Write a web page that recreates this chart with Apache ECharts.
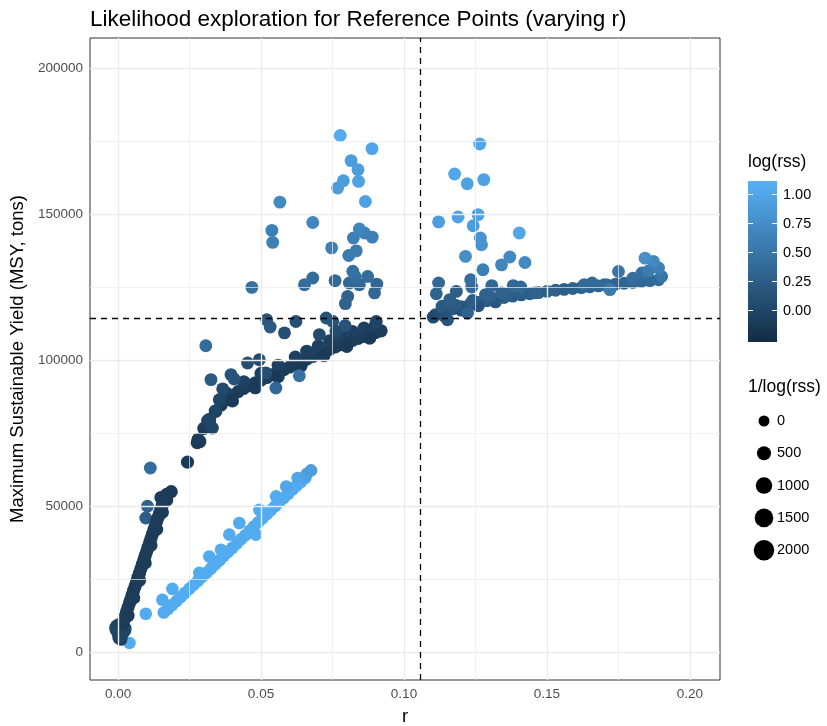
<!DOCTYPE html>
<html>
<head>
<meta charset="utf-8">
<script src="https://cdn.jsdelivr.net/npm/echarts@6/dist/echarts.min.js"></script>
<style>
  html, body { margin: 0; padding: 0; background: #fff; }
  #chart { width: 827px; height: 726px; }
</style>
</head>
<body>
<div id="chart"></div>
<script>
// every row: [r, MSY (tons), log(rss), 1/log(rss)]
let lightLine = [
  [0.0040, 3100, 1.05, 250], [0.0097, 13100, 1.05, 250], [0.0155, 17900, 1.05, 250], [0.0190, 21600, 1.05, 250],
  [0.0160, 13500, 1.05, 250], [0.0175, 14800, 1.05, 250], [0.0190, 16200, 1.05, 250], [0.0205, 17500, 1.05, 250],
  [0.0220, 18900, 1.05, 250], [0.0235, 20300, 1.05, 250], [0.0250, 21700, 1.05, 250], [0.0265, 23100, 1.05, 250],
  [0.0280, 24400, 1.05, 250], [0.0295, 25800, 1.05, 250], [0.0310, 27200, 1.05, 250], [0.0325, 28600, 1.05, 250],
  [0.0340, 30000, 1.05, 250], [0.0355, 31400, 1.05, 250], [0.0370, 32900, 1.05, 250], [0.0385, 34300, 1.05, 250],
  [0.0400, 35700, 1.05, 250], [0.0415, 37100, 1.05, 250], [0.0430, 38600, 1.05, 250], [0.0445, 40000, 1.05, 250],
  [0.0460, 41500, 1.05, 250], [0.0475, 43000, 1.05, 250], [0.0490, 44400, 1.05, 250], [0.0505, 45800, 1.05, 250],
  [0.0520, 47200, 1.05, 250], [0.0535, 48600, 1.05, 250], [0.0550, 50000, 1.05, 250], [0.0565, 51400, 1.05, 250],
  [0.0580, 52800, 1.05, 250], [0.0595, 54200, 1.05, 250], [0.0610, 55600, 1.05, 250], [0.0625, 57000, 1.05, 250],
  [0.0640, 58300, 1.05, 250], [0.0655, 59700, 1.0, 250],
  [0.0284, 27100, 1.05, 250], [0.0319, 32700, 1.05, 250], [0.0360, 35000, 1.05, 250], [0.0389, 40200, 1.05, 250],
  [0.0424, 44200, 1.05, 250], [0.0482, 40200, 1.05, 250], [0.0494, 48700, 1.05, 250], [0.0553, 53300, 1.05, 250],
  [0.0588, 56700, 1.0, 250], [0.0628, 59600, 1.0, 250], [0.0660, 61000, 0.95, 250], [0.0675, 62200, 0.9, 250]
];

let steepBand = [
  [0.0003, 4800, -0.1, 300], [0.0010, 4300, -0.1, 300], [0.0008, 6000, 0.0, 1000], [0.0015, 7800, 0.0, 1500],
  [0.0005, 8000, 0.0, 2000],
  [0.0016, 9500, -0.1, 350], [0.0020, 10800, -0.1, 350], [0.0025, 12300, -0.1, 350], [0.0030, 13800, -0.1, 350],
  [0.0035, 15300, -0.1, 350], [0.0040, 16800, -0.1, 350], [0.0045, 18200, -0.1, 350], [0.0050, 19700, -0.1, 350],
  [0.0055, 21200, -0.1, 350], [0.0060, 22600, -0.1, 350], [0.0065, 24100, -0.1, 350], [0.0070, 25600, -0.1, 350],
  [0.0075, 27000, -0.1, 350], [0.0080, 28500, -0.1, 350], [0.0085, 30000, -0.1, 350], [0.0090, 31500, -0.1, 350],
  [0.0095, 33000, -0.1, 350], [0.0100, 34400, -0.1, 350], [0.0105, 35900, -0.1, 350], [0.0110, 37400, -0.1, 350],
  [0.0115, 38800, -0.1, 350], [0.0120, 40300, -0.1, 350], [0.0125, 41800, -0.1, 350], [0.0130, 43200, -0.1, 350],
  [0.0097, 45900, 0.25, 300], [0.0103, 49900, 0.3, 300],
  [0.0135, 44700, -0.1, 350], [0.0140, 46100, -0.1, 350], [0.0145, 47500, -0.1, 350], [0.0150, 48900, -0.1, 350],
  [0.0155, 50300, -0.1, 350], [0.0160, 51600, -0.1, 350], [0.0165, 52900, -0.1, 350], [0.0170, 54000, -0.1, 350],
  [0.0150, 52900, -0.1, 350], [0.0186, 54900, -0.12, 350],
  [0.0035, 12500, -0.1, 350], [0.0055, 18500, -0.1, 350], [0.0075, 24500, -0.1, 350], [0.0095, 30500, -0.1, 350],
  [0.0115, 36500, -0.1, 350], [0.0135, 42000, -0.1, 350], [0.0155, 47800, -0.1, 350], [0.0170, 52000, -0.1, 350]
];

let lowerCurve = [
  [0.0243, 65000, -0.12, 350], [0.0277, 71700, -0.1, 350], [0.0286, 72100, -0.1, 350],
  [0.028, 72800, -0.1, 350], [0.030, 76600, -0.1, 350], [0.032, 79700, -0.1, 350], [0.034, 82500, -0.1, 350],
  [0.036, 84600, -0.1, 350], [0.038, 86400, -0.1, 350], [0.040, 87900, -0.1, 350], [0.042, 89200, -0.1, 350],
  [0.044, 90300, -0.1, 350], [0.046, 91300, -0.1, 350], [0.048, 92200, -0.1, 350], [0.050, 93100, -0.1, 350],
  [0.052, 94000, -0.1, 350], [0.054, 94900, -0.1, 350], [0.056, 95800, -0.1, 350], [0.058, 96700, -0.1, 350],
  [0.060, 97600, -0.1, 350], [0.062, 98500, -0.1, 350], [0.064, 99400, -0.1, 350], [0.066, 100300, -0.1, 350],
  [0.068, 101200, -0.1, 350], [0.070, 102100, -0.1, 350], [0.072, 102900, -0.1, 350], [0.074, 103700, -0.1, 350],
  [0.076, 104500, -0.1, 350], [0.078, 105300, -0.1, 350], [0.080, 106000, -0.1, 350], [0.082, 106700, -0.1, 350],
  [0.084, 107400, -0.1, 350], [0.086, 108100, -0.1, 350], [0.088, 108800, -0.1, 350], [0.090, 109400, -0.1, 350],
  [0.092, 110000, -0.1, 350],
  [0.038, 88600, -0.05, 350], [0.044, 92500, -0.05, 350], [0.050, 95400, -0.05, 350], [0.056, 98200, -0.05, 350],
  [0.062, 101000, -0.05, 350], [0.066, 103000, -0.05, 350], [0.070, 104800, -0.05, 350], [0.074, 106600, -0.05, 350],
  [0.078, 108200, -0.05, 350], [0.082, 109700, -0.05, 350], [0.086, 110900, -0.05, 350], [0.090, 112000, -0.05, 350],
  [0.032, 78000, -0.12, 350], [0.040, 86000, -0.12, 350], [0.048, 90500, -0.12, 350], [0.056, 94300, -0.12, 350],
  [0.064, 98000, -0.12, 350], [0.072, 101500, -0.12, 350], [0.080, 104700, -0.12, 350], [0.088, 107500, -0.12, 350]
];

let upperScatter = [
  [0.0113, 63000, 0.4, 300], [0.0307, 104900, 0.4, 300], [0.0325, 93300, 0.2, 300], [0.0366, 90100, 0.05, 300],
  [0.0354, 86400, 0.0, 300], [0.0395, 95000, 0.15, 300], [0.0406, 93500, 0.15, 300], [0.0453, 99000, 0.1, 300],
  [0.0494, 100100, 0.05, 300], [0.0517, 95600, 0.1, 300], [0.0552, 90400, 0.35, 300], [0.0634, 94600, 0.45, 300],
  [0.0313, 79300, 0.0, 300], [0.0330, 76700, 0.0, 300], [0.0342, 82400, 0.0, 300],
  [0.0520, 113800, 0.15, 300], [0.0532, 111300, 0.2, 300], [0.0582, 109300, 0.1, 300], [0.0622, 113200, 0.1, 300],
  [0.0728, 114400, 0.15, 300], [0.0751, 113200, 0.15, 300], [0.0794, 111800, 0.15, 300], [0.0762, 109800, 0.05, 300],
  [0.0903, 113200, 0.0, 300], [0.0704, 108700, 0.05, 300],
  [0.0795, 119300, 0.3, 300], [0.0803, 121800, 0.3, 300], [0.0897, 123000, 0.35, 300], [0.0905, 126000, 0.35, 300],
  [0.0844, 125800, 0.35, 300], [0.0809, 126400, 0.35, 300], [0.0759, 127200, 0.35, 300], [0.0652, 125800, 0.4, 300],
  [0.0681, 128100, 0.4, 300], [0.0873, 128600, 0.4, 300], [0.0829, 128600, 0.4, 300], [0.0821, 130400, 0.45, 300],
  [0.0468, 124900, 0.45, 300], [0.0807, 135800, 0.55, 300], [0.0833, 137400, 0.55, 300], [0.0747, 138400, 0.6, 300],
  [0.0823, 141800, 0.6, 300], [0.0889, 142100, 0.6, 300], [0.0862, 143500, 0.6, 300], [0.0844, 144900, 0.65, 300],
  [0.0541, 140300, 0.6, 300], [0.0538, 144400, 0.6, 300], [0.0681, 147100, 0.65, 300], [0.0566, 154100, 0.7, 300],
  [0.0865, 154300, 0.95, 300], [0.0768, 158900, 0.9, 300], [0.0788, 161400, 0.9, 300], [0.0841, 161200, 0.95, 300],
  [0.0839, 165200, 0.9, 300], [0.0815, 168300, 0.9, 300], [0.0888, 172400, 1.0, 300], [0.0777, 176900, 1.05, 300]
];

let rightBand = [
  [0.111, 115500, 0.1, 300], [0.114, 116600, 0.15, 300], [0.117, 117500, 0.18, 300], [0.120, 118300, 0.2, 300],
  [0.123, 119000, 0.2, 300], [0.126, 119700, 0.22, 300], [0.129, 120300, 0.22, 300], [0.132, 120900, 0.22, 300],
  [0.135, 121400, 0.24, 300], [0.138, 121900, 0.24, 300], [0.141, 122300, 0.25, 300], [0.144, 122700, 0.25, 300],
  [0.147, 123100, 0.26, 300], [0.150, 123500, 0.26, 300], [0.153, 123900, 0.27, 300], [0.156, 124200, 0.27, 300],
  [0.159, 124500, 0.28, 300], [0.162, 124800, 0.28, 300], [0.165, 125100, 0.29, 300], [0.168, 125400, 0.3, 300],
  [0.171, 125700, 0.3, 300], [0.174, 126000, 0.32, 300], [0.177, 126300, 0.33, 300], [0.180, 126600, 0.34, 300],
  [0.183, 126900, 0.35, 300], [0.186, 127200, 0.36, 300], [0.189, 127500, 0.38, 300],
  [0.114, 115200, 0.1, 300], [0.120, 117100, 0.12, 300], [0.126, 118600, 0.15, 300], [0.132, 119900, 0.18, 300],
  [0.118, 118800, 0.22, 300], [0.124, 120400, 0.25, 300], [0.130, 121700, 0.27, 300], [0.136, 122600, 0.28, 300]
];

let rightScatter = [
  [0.1102, 114700, 0.05, 300], [0.1152, 113800, 0.15, 300], [0.1133, 118400, 0.2, 300], [0.1160, 120700, 0.25, 300],
  [0.1183, 123500, 0.25, 300], [0.1113, 122700, 0.3, 300], [0.1121, 126400, 0.35, 300], [0.1222, 116100, 0.3, 300],
  [0.1285, 122400, 0.3, 300], [0.1341, 123000, 0.3, 300], [0.1458, 123000, 0.3, 300], [0.1237, 125000, 0.35, 300],
  [0.1307, 125500, 0.35, 300], [0.1382, 125500, 0.35, 300], [0.1408, 125000, 0.35, 300], [0.1233, 127500, 0.4, 300],
  [0.1630, 125800, 0.38, 300], [0.1658, 126400, 0.38, 300], [0.1700, 125800, 0.38, 300], [0.1800, 128000, 0.42, 300],
  [0.1720, 124100, 0.55, 300], [0.1750, 130300, 0.5, 300], [0.1832, 129800, 0.45, 300], [0.1901, 128600, 0.5, 300],
  [0.1855, 130500, 0.55, 300], [0.1890, 131500, 0.6, 300], [0.1872, 133800, 0.7, 300], [0.1843, 134900, 0.75, 300],
  [0.1276, 130900, 0.6, 300], [0.1341, 132600, 0.65, 300], [0.1423, 133400, 0.7, 300], [0.1370, 135300, 0.7, 300],
  [0.1215, 135500, 0.75, 300], [0.1271, 139500, 0.8, 300], [0.1267, 141800, 0.8, 300], [0.1403, 143500, 1.0, 300],
  [0.1242, 146000, 0.9, 300], [0.1121, 147300, 0.9, 300], [0.1189, 149000, 0.95, 300], [0.1259, 149800, 0.95, 300],
  [0.1221, 160400, 0.95, 300], [0.1279, 161800, 0.95, 300], [0.1177, 163700, 1.0, 300], [0.1265, 174000, 1.0, 300]
];

let xTicks = [0, 0.05, 0.1, 0.15, 0.2];
let xMinor = [0.025, 0.075, 0.125, 0.175];
let yTicks = [0, 50000, 100000, 150000, 200000];
let yMinor = [25000, 75000, 125000, 175000];
let refR = 0.1058;
let refMsy = 114400;
let colorRange = [-0.28, 1.11];
let colorBreaks = [1.0, 0.75, 0.5, 0.25, 0.0];
let sizeBreaks = [0, 500, 1000, 1500, 2000];

let allPoints = [].concat(lightLine, steepBand, lowerCurve, upperScatter, rightBand, rightScatter);

function dotSize(v) {
  return Math.sqrt(121 + 0.15 * Math.max(v, 0));
}

let font = 'Liberation Sans, Arial, sans-serif';

// legend geometry (colourbar + size keys)
let barLeft = 748, barTop = 181, barW = 29, barH = 161;
function barY(v) {
  return barTop + (colorRange[1] - v) / (colorRange[1] - colorRange[0]) * barH;
}

let legendGraphics = [
  { type: 'text', left: 748, top: 153, style: { text: 'log(rss)', font: '17.5px ' + font, fill: '#000' } },
  {
    type: 'rect', shape: { x: barLeft, y: barTop, width: barW, height: barH },
    style: {
      fill: new echarts.graphic.LinearGradient(0, 0, 0, 1, [
        { offset: 0, color: '#56B1F7' }, { offset: 1, color: '#132B43' }
      ])
    }
  },
  { type: 'text', left: 748, top: 378, style: { text: '1/log(rss)', font: '17.5px ' + font, fill: '#000' } }
];
colorBreaks.forEach(function (v) {
  let y = Math.round(barY(v)) + 0.5;
  legendGraphics.push({ type: 'line', shape: { x1: barLeft, y1: y, x2: barLeft + 5, y2: y }, style: { stroke: '#fff', lineWidth: 1 } });
  legendGraphics.push({ type: 'line', shape: { x1: barLeft + barW - 5, y1: y, x2: barLeft + barW, y2: y }, style: { stroke: '#fff', lineWidth: 1 } });
  legendGraphics.push({
    type: 'text', x: barLeft + barW + 6, y: y,
    style: { text: v.toFixed(2), font: '14.5px ' + font, fill: '#000', verticalAlign: 'middle' }
  });
});
sizeBreaks.forEach(function (v, i) {
  let cy = 421 + i * 32.3;
  legendGraphics.push({ type: 'circle', shape: { cx: 764, cy: cy, r: dotSize(v) / 2 }, style: { fill: '#000' } });
  legendGraphics.push({
    type: 'text', x: 777, y: cy,
    style: { text: String(v), font: '14.5px ' + font, fill: '#000', verticalAlign: 'middle' }
  });
});

let gridLines = [];
xTicks.forEach(function (v) { gridLines.push({ xAxis: v, lineStyle: { width: 1.4 } }); });
yTicks.forEach(function (v) { gridLines.push({ yAxis: v, lineStyle: { width: 1.4 } }); });
xMinor.forEach(function (v) { gridLines.push({ xAxis: v, lineStyle: { width: 0.7 } }); });
yMinor.forEach(function (v) { gridLines.push({ yAxis: v, lineStyle: { width: 0.7 } }); });

let option = {
  animation: false,
  backgroundColor: '#fff',
  textStyle: { fontFamily: font },
  title: {
    text: 'Likelihood exploration for Reference Points (varying r)',
    left: 85, top: 3,
    textStyle: { fontSize: 22.5, fontWeight: 'normal', color: '#000', fontFamily: font }
  },
  grid: {
    left: 90, right: 107, top: 38, bottom: 46,
    outerBoundsMode: 'none', containLabel: false,
    show: true, borderColor: '#333333', borderWidth: 1, backgroundColor: '#fff'
  },
  xAxis: {
    type: 'value', min: -0.0098, max: 0.2105,
    name: 'r', nameLocation: 'middle', nameGap: 27,
    nameTextStyle: { fontSize: 18.5, color: '#000', fontFamily: font },
    axisLine: { show: false },
    splitLine: { show: false },
    axisTick: { show: true, customValues: xTicks, length: 4, lineStyle: { color: '#333333' } },
    axisLabel: {
      customValues: xTicks, color: '#4D4D4D', fontSize: 13.5, margin: 7,
      formatter: function (v) { return v.toFixed(2); }
    }
  },
  yAxis: {
    type: 'value', min: -9600, max: 210300,
    name: 'Maximum Sustainable Yield (MSY, tons)', nameLocation: 'middle', nameGap: 62,
    nameTextStyle: { fontSize: 18.5, color: '#000', fontFamily: font },
    axisLine: { show: false },
    splitLine: { show: false },
    axisTick: { show: true, customValues: yTicks, length: 4, lineStyle: { color: '#333333' } },
    axisLabel: {
      customValues: yTicks, color: '#4D4D4D', fontSize: 13.5, margin: 7,
      formatter: function (v) { return String(v); }
    }
  },
  visualMap: {
    show: false, type: 'continuous', seriesIndex: 1, dimension: 2,
    min: colorRange[0], max: colorRange[1],
    inRange: { color: ['#132B43', '#56B1F7'] }
  },
  graphic: legendGraphics,
  series: [
    {
      type: 'scatter', data: [], z: 1, silent: true,
      markLine: {
        silent: true, symbol: 'none', precision: 6, label: { show: false },
        lineStyle: { color: '#EBEBEB', type: 'solid' },
        data: gridLines
      }
    },
    {
      type: 'scatter', z: 2,
      data: allPoints,
      symbol: 'circle',
      symbolSize: function (val) { return dotSize(val[3]); },
      itemStyle: { opacity: 1 }
    },
    {
      type: 'scatter', data: [], z: 3, silent: true,
      markLine: {
        silent: true, symbol: 'none', precision: 6, label: { show: false },
        lineStyle: { color: '#000', type: [6, 5], width: 1.3 },
        data: [{ xAxis: refR }, { yAxis: refMsy }]
      }
    }
  ]
};

let chart = echarts.init(document.getElementById('chart'));
chart.setOption(option);
</script>
</body>
</html>
